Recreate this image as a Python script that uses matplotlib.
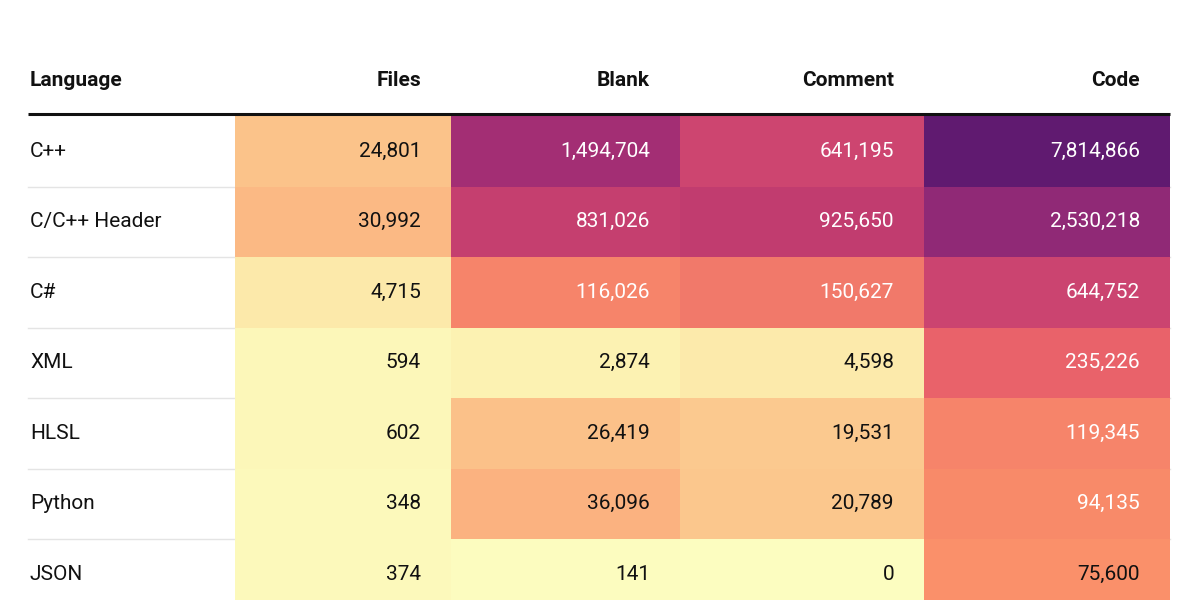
import matplotlib

matplotlib.use("Agg")
import matplotlib.pyplot as plt
import numpy as np
from matplotlib.colors import LinearSegmentedColormap, Normalize

columns = ["Files", "Blank", "Comment", "Code"]
languages = ["C++", "C/C++ Header", "C#", "XML", "HLSL", "Python", "JSON"]
files = [24801, 30992, 4715, 594, 602, 348, 374]
blank = [1494704, 831026, 116026, 2874, 26419, 36096, 141]
comment = [641195, 925650, 150627, 4598, 19531, 20789, 0]
code = [7814866, 2530218, 644752, 235226, 119345, 94135, 75600]

# colour stops on log10(value)
stops = [(2.0, "#fcfdc0"), (3.5, "#fcf2b2"), (4.4, "#fbc38a"), (4.9, "#fa8e69"),
         (5.1, "#f5836a"), (5.4, "#e8606a"), (5.8, "#cd4570"), (6.0, "#c03b6f"),
         (6.2, "#a12d74"), (6.4, "#922a76"), (6.9, "#601a70")]
lo, hi = stops[0][0], stops[-1][0]
cmap = LinearSegmentedColormap.from_list(
    "heat", [((v - lo) / (hi - lo), c) for v, c in stops])
norm = Normalize(lo, hi, clip=True)

plt.rcParams["font.family"] = ["Roboto", "DejaVu Sans"]
fig = plt.figure(figsize=(12, 6), dpi=100)
ax = fig.add_axes([0, 0, 1, 1])
ax.set_xlim(0, 1200)
ax.set_ylim(600, 0)
ax.axis("off")

col_left = [235, 451, 680, 924]
col_right = [451, 680, 924, 1170]
top, row_h = 116, 70.5

ax.text(30, 80, "Language", fontsize=15, fontweight="bold", va="center", ha="left", color="#111")
for j, name in enumerate(columns):
    ax.text(col_right[j] - 30, 80, name, fontsize=15, fontweight="bold", va="center", ha="right", color="#111")
ax.plot([28, 1170], [113.5, 113.5], color="#111", lw=2.2, solid_capstyle="butt")

data = [files, blank, comment, code]
for i, lang in enumerate(languages):
    y0 = top + i * row_h
    yc = y0 + row_h / 2
    ax.text(30, yc, lang, fontsize=15, va="center", ha="left", color="#111")
    ax.plot([28, 1170], [y0 + row_h, y0 + row_h], color="#e4e4e4", lw=1, zorder=0)
    for j in range(4):
        v = data[j][i]
        lv = np.log10(v) if v > 0 else lo
        ax.add_patch(plt.Rectangle((col_left[j], y0), col_right[j] - col_left[j], row_h,
                                   facecolor=cmap(norm(lv)), edgecolor="none", zorder=1))
        ax.text(col_right[j] - 30, yc, f"{v:,}", fontsize=15, va="center", ha="right",
                color="white" if lv > 4.95 else "#111", zorder=2)

fig.savefig("out.png", dpi=100)
